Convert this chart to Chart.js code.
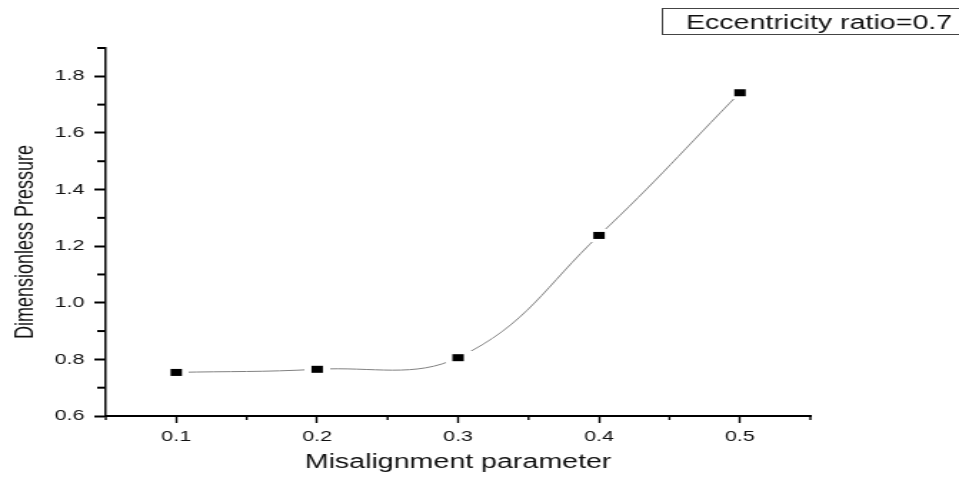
<!DOCTYPE html>
<html><head><meta charset="utf-8">
<script src="https://cdn.jsdelivr.net/npm/chart.js@4.4.0/dist/chart.umd.min.js"></script>
<style>
html,body{margin:0;padding:0;background:#fff;overflow:hidden;}
#wrap{position:absolute;left:0;top:0;width:671px;height:477px;transform:scaleX(1.4292);transform-origin:0 0;}
</style></head><body>
<div id="wrap"><canvas id="c"></canvas></div>
<script>
// ---- data ----
const misalignment = [0.1, 0.2, 0.3, 0.4, 0.5];
const pressure = [0.754, 0.765, 0.806, 1.238, 1.742];
const xTickLabels = ['0.1', '0.2', '0.3', '0.4', '0.5'];
const yTickLabels = ['0.6', '0.8', '1.0', '1.2', '1.4', '1.6', '1.8'];
const xTitle = 'Misalignment parameter';
const yTitle = 'Dimensionless Pressure';
const legendText = 'Eccentricity ratio=0.7';

const FONT = "'Liberation Sans', Arial, Helvetica, sans-serif";

function markerImage() {
  const c = document.createElement('canvas');
  c.width = 18; c.height = 13;
  const g = c.getContext('2d');
  g.fillStyle = '#fff'; g.fillRect(0, 0, 18, 13);
  g.fillStyle = '#000'; g.fillRect(5, 3, 8, 7);
  return c;
}

const xLabel = v => { const s = (Math.round(v * 100) / 100).toFixed(2).replace(/0$/, ''); return xTickLabels.includes(s) ? s : ''; };
const yLabel = v => { const s = (Math.round(v * 10) / 10).toFixed(1); return yTickLabels.includes(s) ? s : ''; };

const decor = {
  id: 'decor',
  afterDraw(chart) {
    const ctx = chart.ctx, xs = chart.scales.x, ys = chart.scales.y;
    ctx.save();
    ctx.strokeStyle = '#000';
    ctx.lineWidth = 2;
    ys.ticks.forEach((t, i) => {
      if (yLabel(t.value) !== '') return;
      const py = ys.getPixelForTick(i);
      ctx.beginPath(); ctx.moveTo(ys.right - 6, py); ctx.lineTo(ys.right, py); ctx.stroke();
    });
    ctx.lineWidth = 1.4;
    xs.ticks.forEach((t, i) => {
      if (xLabel(t.value) !== '') return;
      const px = xs.getPixelForTick(i);
      ctx.beginPath(); ctx.moveTo(px, xs.top); ctx.lineTo(px, xs.top + 4); ctx.stroke();
    });
    // y title
    ctx.fillStyle = '#111';
    ctx.font = '18px ' + FONT;
    ctx.translate(23, 242);
    ctx.rotate(-Math.PI / 2);
    ctx.textAlign = 'center';
    ctx.textBaseline = 'alphabetic';
    ctx.fillText(yTitle, 0, 0);
    ctx.restore();
    // legend box
    ctx.save();
    ctx.strokeStyle = '#444';
    ctx.lineWidth = 1;
    ctx.strokeRect(463.5, 8.5, 240, 26);
    ctx.fillStyle = '#111';
    ctx.font = '20px ' + FONT;
    ctx.textBaseline = 'alphabetic';
    ctx.fillText(legendText, 480, 29);
    ctx.restore();
  }
};

new Chart(document.getElementById('c'), {
  type: 'line',
  data: {
    datasets: [{
      data: misalignment.map((x, i) => ({ x: x, y: pressure[i] })),
      borderColor: '#808080',
      borderWidth: 1,
      tension: 0.4,
      pointStyle: markerImage(),
      pointRadius: 5,
      pointHoverRadius: 5
    }]
  },
  options: {
    responsive: true,
    maintainAspectRatio: false,
    animation: false,
    events: [],
    layout: { padding: { top: 48, right: 104, left: 0, bottom: 0 } },
    plugins: { legend: { display: false }, tooltip: { enabled: false } },
    scales: {
      x: {
        type: 'linear',
        min: 0.05, max: 0.55,
        afterFit: s => { s.height = 61; },
        border: { display: true, color: '#000', width: 2 },
        grid: { drawOnChartArea: false, drawTicks: true, tickLength: 7, tickWidth: 1.4,
          tickColor: c => (c.tick && xLabel(c.tick.value) !== '') ? '#000' : 'rgba(0,0,0,0)' },
        ticks: { stepSize: 0.05, autoSkip: false, maxRotation: 0, padding: 5, color: '#111',
          font: { family: FONT, size: 15 }, callback: v => xLabel(v) },
        title: { display: true, text: xTitle, color: '#111', font: { family: FONT, size: 20 },
          padding: { top: 0, bottom: 3 } }
      },
      y: {
        type: 'linear',
        min: 0.6, max: 1.9,
        afterFit: s => { s.width = 74; },
        border: { display: true, color: '#000', width: 1.5 },
        grid: { drawOnChartArea: false, drawTicks: true, tickLength: 8, tickWidth: 2,
          tickColor: c => (c.tick && yLabel(c.tick.value) !== '') ? '#000' : 'rgba(0,0,0,0)' },
        ticks: { stepSize: 0.1, autoSkip: false, padding: 7, color: '#111',
          font: { family: FONT, size: 15 }, callback: v => yLabel(v) }
      }
    }
  },
  plugins: [decor]
});
</script>
</body></html>
